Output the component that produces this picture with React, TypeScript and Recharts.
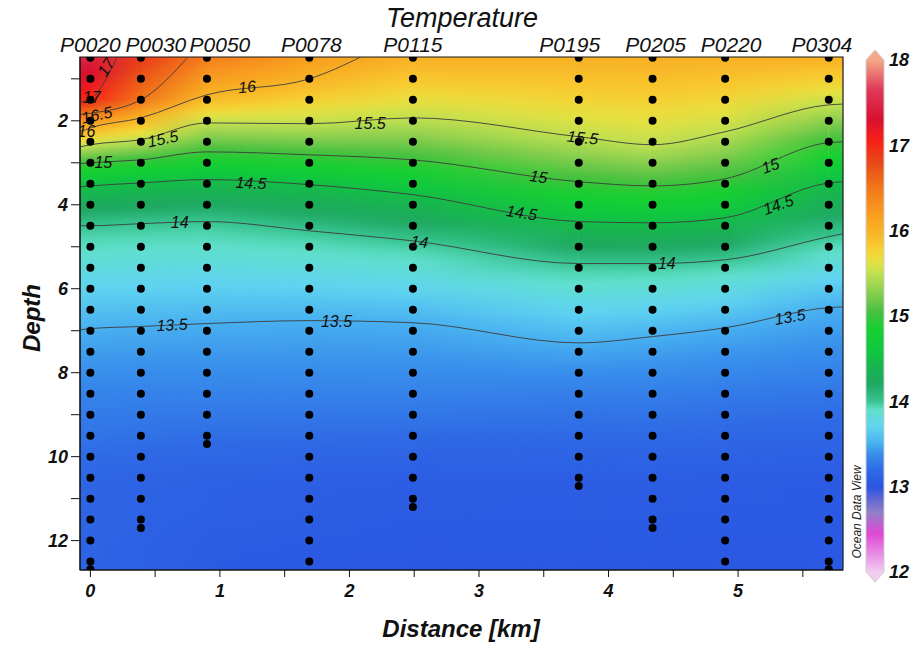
import React from "react";
import {
  ComposedChart,
  BarChart,
  Bar,
  XAxis,
  YAxis,
  Line,
  Scatter,
  ReferenceArea,
} from "recharts";

const FONT = '"Liberation Sans", Arial, sans-serif';

// stations along the section
const stations = ["P0020", "P0030", "P0050", "P0078", "P0115", "P0195", "P0205", "P0220", "P0304"];
const stationKm = [0, 0.39, 0.9, 1.69, 2.49, 3.77, 4.34, 4.9, 5.7];
const stationBottom = [12.68, 11.7, 9.7, 12.5, 11.2, 10.7, 11.7, 12.5, 12.68];
const sampleDepths = [0.5, 1, 1.5, 2, 2.5, 3, 3.5, 4, 4.5, 5, 5.5, 6, 6.5, 7, 7.5, 8, 8.5, 9, 9.5, 10, 10.5, 11, 11.5, 12, 12.5];

// section columns (plot edges + stations)
const gridKm = [-0.08, 0, 0.39, 0.9, 1.69, 2.49, 3.77, 4.34, 4.9, 5.7, 5.81];
const DEPTH_TOP = 0.48;
const DEPTH_BOTTOM = 12.7;

// temperature at the top of each column
const topTemp = [17.5, 17.45, 16.9, 16.45, 16.2, 16.02, 16.02, 16.03, 16.02, 16.02, 16.02];

// depth of each isotherm at each column (null = above the section)
const isoLevels = [17, 16.5, 16, 15.5, 15, 14.5, 14, 13.5];
const iso170 = [1.55, 1.48, null, null, null, null, null, null, null, null, null];
const iso165 = [1.85, 1.82, 1.5, null, null, null, null, null, null, null, null];
const iso160 = [2.26, 2.17, 1.93, 1.38, 1.0, null, null, null, null, null, null];
const iso155 = [2.62, 2.57, 2.45, 2.05, 2.07, 1.93, 2.38, 2.57, 2.26, 1.62, 1.6];
const iso150 = [3.02, 3.0, 2.93, 2.74, 2.81, 2.93, 3.45, 3.55, 3.38, 2.52, 2.5];
const iso145 = [3.57, 3.55, 3.48, 3.4, 3.52, 3.76, 4.4, 4.43, 4.31, 3.48, 3.45];
const iso140 = [4.5, 4.5, 4.45, 4.4, 4.62, 4.86, 5.4, 5.4, 5.31, 4.76, 4.69];
const iso135 = [6.98, 6.95, 6.9, 6.83, 6.76, 6.81, 7.29, 7.14, 6.93, 6.45, 6.43];
const isoDepths = [iso170, iso165, iso160, iso155, iso150, iso145, iso140, iso135];
// where the warm isotherms leave through the top of the section
const isoTopExitKm = [0.21, 0.76, 2.1, null, null, null, null, null];

// deep water temperatures
const deepDepths = [8.5, 10.5, 12.7];
const temp085 = [13.33, 13.33, 13.32, 13.32, 13.32, 13.32, 13.3, 13.3, 13.28, 13.26, 13.26];
const temp105 = [13.16, 13.16, 13.14, 13.12, 13.1, 13.08, 13.08, 13.08, 13.07, 13.06, 13.06];
const tempBottom = [13.13, 13.13, 13.1, 13.06, 13.04, 13.03, 13.03, 13.03, 13.03, 13.03, 13.03];
const deepTemps = [temp085, temp105, tempBottom];

// contour labels
const isoLabels = [
  { km: 0.12, depth: 0.72, text: "17", angle: -58 },
  { km: 0.01, depth: 1.45, text: "17", angle: 0 },
  { km: 0.05, depth: 1.86, text: "16.5", angle: -12 },
  { km: -0.03, depth: 2.26, text: "16", angle: 0 },
  { km: 1.21, depth: 1.19, text: "16", angle: -5 },
  { km: 0.56, depth: 2.43, text: "15.5", angle: -12 },
  { km: 2.16, depth: 2.05, text: "15.5", angle: 0 },
  { km: 3.8, depth: 2.4, text: "15.5", angle: 6 },
  { km: 0.1, depth: 3.0, text: "15", angle: 0 },
  { km: 3.46, depth: 3.33, text: "15", angle: 8 },
  { km: 5.25, depth: 3.07, text: "15", angle: -20 },
  { km: 1.24, depth: 3.48, text: "14.5", angle: 3 },
  { km: 3.33, depth: 4.19, text: "14.5", angle: 8 },
  { km: 5.31, depth: 4.0, text: "14.5", angle: -20 },
  { km: 0.69, depth: 4.43, text: "14", angle: 0 },
  { km: 2.54, depth: 4.88, text: "14", angle: 6 },
  { km: 4.45, depth: 5.4, text: "14", angle: 0 },
  { km: 0.63, depth: 6.86, text: "13.5", angle: -3 },
  { km: 1.9, depth: 6.79, text: "13.5", angle: 0 },
  { km: 5.4, depth: 6.67, text: "13.5", angle: -10 },
];

const xTicks = [0, 0.5, 1, 1.5, 2, 2.5, 3, 3.5, 4, 4.5, 5, 5.5];
const yTicks = [1, 2, 3, 4, 5, 6, 7, 8, 9, 10, 11, 12];
const cbarTicks = [12, 13, 14, 15, 16, 17, 18];

// ODV-like palette
const cmapTemps = [12.0, 12.2, 12.45, 12.7, 12.9, 13.0, 13.2, 13.4, 13.5, 13.7, 13.9, 14.0, 14.2, 14.4, 14.6, 14.85, 15.05, 15.3, 15.5, 15.65, 15.8, 15.95, 16.1, 16.3, 16.55, 16.8, 17.05, 17.3, 17.65, 18.0];
const cmapColors = ["#f2cdf2", "#e890e4", "#e048d4", "#9080c8", "#5060d8", "#2a55e2", "#2f6be6", "#3a92ec", "#48b0f0", "#60d4f0", "#60e0c8", "#38c490", "#1fa862", "#18b450", "#10c840", "#18d030", "#48c040", "#90d050", "#c0e050", "#e8e040", "#f8cc30", "#f8b828", "#f8a820", "#f89020", "#f07018", "#e84818", "#f82018", "#d81030", "#e03858", "#f4a888"];

// crowded station names are pushed apart a little, as in the original
const stationLabelNudge = [0, 15, 13, 2, 0, -9, 3, 6, -7];

function hex(c: string) {
  return [1, 3, 5].map((i) => parseInt(c.slice(i, i + 2), 16));
}
function mix(a: string, b: string, f: number) {
  const A = hex(a), B = hex(b);
  const r = A.map((v, i) => Math.round(v + (B[i] - v) * f));
  return `rgb(${r[0]},${r[1]},${r[2]})`;
}
function cmap(t: number) {
  if (t <= cmapTemps[0]) return cmapColors[0];
  for (let i = 1; i < cmapTemps.length; i++) {
    if (t <= cmapTemps[i]) {
      return mix(cmapColors[i - 1], cmapColors[i], (t - cmapTemps[i - 1]) / (cmapTemps[i] - cmapTemps[i - 1]));
    }
  }
  return cmapColors[cmapColors.length - 1];
}

function columnStops(i: number) {
  const pts: [number, number][] = [[DEPTH_TOP, topTemp[i]]];
  isoDepths.forEach((arr, k) => {
    const d = arr[i];
    if (d != null) pts.push([d, isoLevels[k]]);
  });
  deepDepths.forEach((d, k) => pts.push([d, deepTemps[k][i]]));
  pts.sort((a, b) => a[0] - b[0]);
  const span = DEPTH_BOTTOM - DEPTH_TOP;
  const out: { off: number; color: string }[] = [];
  for (let j = 0; j < pts.length - 1; j++) {
    const [d0, t0] = pts[j];
    const [d1, t1] = pts[j + 1];
    for (let s = 0; s < 8; s++) {
      const f = s / 8;
      out.push({ off: (d0 + f * (d1 - d0) - DEPTH_TOP) / span, color: cmap(t0 + f * (t1 - t0)) });
    }
  }
  const last = pts[pts.length - 1];
  out.push({ off: (last[0] - DEPTH_TOP) / span, color: cmap(last[1]) });
  return out;
}

const sampleDots = stationKm.flatMap((km, s) => {
  const pts = sampleDepths.filter((d) => d <= stationBottom[s]).map((depth) => ({ km, depth }));
  if (!sampleDepths.includes(stationBottom[s])) pts.push({ km, depth: stationBottom[s] });
  return pts;
});

const isoLines = isoLevels.map((lv, k) => {
  const pts = gridKm
    .map((km, i) => ({ km, depth: isoDepths[k][i] }))
    .filter((p) => p.depth != null) as { km: number; depth: number }[];
  const exit = isoTopExitKm[k];
  if (exit != null) pts.push({ km: exit, depth: DEPTH_TOP - 0.02 });
  return pts;
});

// anchors the station-name axis
const stationTops = stationKm.map((km) => ({ km, depth: DEPTH_TOP }));

const colorbarData = [{ name: "T", range: [12, 18] }];

const StationTick = (props: any) => {
  const { x, index } = props;
  return (
    <text x={x + stationLabelNudge[index]} y={52} textAnchor="middle" fontFamily={FONT} fontStyle="italic" fontSize={21} fill="#111">
      {stations[index]}
    </text>
  );
};

const XTick = (props: any) => {
  const { x, y, payload } = props;
  if (!Number.isInteger(payload.value)) return <g />;
  return (
    <text x={x} y={y} dy="0.8em" textAnchor="middle" fontFamily={FONT} fontStyle="italic" fontWeight="bold" fontSize={18} fill="#111">
      {payload.value}
    </text>
  );
};

const YTick = (props: any) => {
  const { x, y, payload } = props;
  if (payload.value % 2 !== 0) return <g />;
  return (
    <text x={x} y={y} dy="0.36em" textAnchor="end" fontFamily={FONT} fontStyle="italic" fontWeight="bold" fontSize={18} fill="#111">
      {payload.value}
    </text>
  );
};

const CbarTick = (props: any) => {
  const { x, y, payload } = props;
  return (
    <text x={x} y={y} dy="0.36em" textAnchor="start" fontFamily={FONT} fontStyle="italic" fontWeight="bold" fontSize={18} fill="#111">
      {payload.value}
    </text>
  );
};

const ColorbarShape = (props: any) => {
  const { x, y, width, height } = props;
  const tip = 10;
  const pts = `${x},${y} ${x + width / 2},${y - tip} ${x + width},${y} ${x + width},${y + height} ${x + width / 2},${y + height + tip} ${x},${y + height}`;
  const stops = cmapTemps.map((t, i) => ({ off: (18 - t) / 6, color: cmapColors[i] })).reverse();
  return (
    <g>
      <defs>
        <linearGradient id="cbarGrad" gradientUnits="userSpaceOnUse" x1={0} y1={y} x2={0} y2={y + height}>
          {stops.map((s, i) => (
            <stop key={i} offset={s.off} stopColor={s.color} />
          ))}
        </linearGradient>
      </defs>
      <polygon points={pts} fill="url(#cbarGrad)" stroke="#cfcfcf" strokeWidth={1} />
    </g>
  );
};

const stripShape = (i: number) => (props: any) => {
  const { x, y, width, height } = props;
  return (
    <g shapeRendering="crispEdges">
      <rect x={x} y={y} width={width} height={height} fill={`url(#col${i})`} />
      <rect x={x} y={y} width={width} height={height} fill={`url(#col${i + 1})`} mask="url(#fadeR)" />
    </g>
  );
};

const LabelShape = (props: any) => {
  const { cx, cy, payload } = props;
  return (
    <text
      x={cx}
      y={cy}
      dy="0.35em"
      textAnchor="middle"
      transform={`rotate(${payload.angle}, ${cx}, ${cy})`}
      fontFamily={FONT}
      fontStyle="italic"
      fontSize={16}
      fill="#111"
    >
      {payload.text}
    </text>
  );
};

export default function App() {
  const xDomain = [gridKm[0], gridKm[gridKm.length - 1]];
  return (
    <div style={{ position: "absolute", left: 0, top: 0, width: 914, height: 646, background: "#fff" }}>
      <ComposedChart width={914} height={646} margin={{ top: 0, right: 71, bottom: 0, left: 0 }}>
        <defs>
          {gridKm.map((_, i) => (
            <linearGradient key={i} id={`col${i}`} x1={0} y1={0} x2={0} y2={1}>
              {columnStops(i).map((s, j) => (
                <stop key={j} offset={s.off} stopColor={s.color} />
              ))}
            </linearGradient>
          ))}
          <linearGradient id="hfade" x1={0} y1={0} x2={1} y2={0}>
            <stop offset={0} stopColor="#000" />
            <stop offset={1} stopColor="#fff" />
          </linearGradient>
          <mask id="fadeR" maskContentUnits="objectBoundingBox">
            <rect x={0} y={0} width={1} height={1} fill="url(#hfade)" />
          </mask>
        </defs>
        <XAxis
          dataKey="km"
          type="number"
          domain={xDomain}
          ticks={xTicks}
          interval={0}
          allowDataOverflow
          height={76}
          tickSize={7}
          tickMargin={6}
          stroke="#111"
          tick={<XTick />}
        />
        <XAxis
          xAxisId="top"
          dataKey="km"
          orientation="top"
          type="number"
          domain={xDomain}
          ticks={stationKm}
          interval={0}
          allowDataOverflow
          height={57}
          axisLine={false}
          tickLine={false}
          tick={<StationTick />}
        />
        <YAxis
          dataKey="depth"
          type="number"
          reversed
          domain={[DEPTH_TOP, DEPTH_BOTTOM]}
          ticks={yTicks}
          interval={0}
          allowDataOverflow
          width={80}
          tickSize={9}
          tickMargin={3}
          stroke="#111"
          tick={<YTick />}
        />
        {gridKm.slice(0, -1).map((km, i) => (
          <ReferenceArea
            key={`strip${i}`}
            x1={km}
            x2={gridKm[i + 1]}
            y1={DEPTH_TOP}
            y2={DEPTH_BOTTOM}
            shape={stripShape(i)}
          />
        ))}
        {isoLines.map((pts, k) => (
          <Line
            key={`iso${k}`}
            data={pts}
            dataKey="depth"
            type="monotone"
            stroke="#3c3c3c"
            strokeWidth={0.9}
            dot={false}
            activeDot={false}
            isAnimationActive={false}
          />
        ))}
        <Line
          xAxisId="top"
          data={stationTops}
          dataKey="depth"
          stroke="none"
          dot={false}
          activeDot={false}
          isAnimationActive={false}
        />
        <Scatter
          data={sampleDots}
          isAnimationActive={false}
          shape={(p: any) => <circle cx={p.cx} cy={p.cy} r={4} fill="#000" />}
        />
        <Scatter data={isoLabels} isAnimationActive={false} shape={<LabelShape />} />
        <ReferenceArea
          x1={xDomain[0]}
          x2={xDomain[1]}
          y1={DEPTH_TOP}
          y2={DEPTH_BOTTOM}
          fill="none"
          stroke="#1a1a1a"
          strokeWidth={1.2}
        />
      </ComposedChart>

      <div style={{ position: "absolute", left: 850, top: 0 }}>
        <BarChart width={64} height={646} data={colorbarData} margin={{ top: 60, right: 0, bottom: 74, left: 16 }} barCategoryGap={0}>
          <XAxis dataKey="name" hide />
          <YAxis
            orientation="right"
            type="number"
            domain={[12, 18]}
            ticks={cbarTicks}
            interval={0}
            width={30}
            axisLine={false}
            tickLine={false}
            tickSize={0}
            tickMargin={5}
            tick={<CbarTick />}
          />
          <Bar dataKey="range" shape={<ColorbarShape />} isAnimationActive={false} />
        </BarChart>
      </div>

      <svg width={914} height={646} style={{ position: "absolute", left: 0, top: 0, pointerEvents: "none" }}>
        <text x={462} y={27} textAnchor="middle" fontFamily={FONT} fontStyle="italic" fontSize={27} fill="#111">
          Temperature
        </text>
        <text x={461} y={637} textAnchor="middle" fontFamily={FONT} fontStyle="italic" fontWeight="bold" fontSize={24} fill="#111">
          Distance [km]
        </text>
        <text transform="translate(40,318) rotate(-90)" textAnchor="middle" fontFamily={FONT} fontStyle="italic" fontWeight="bold" fontSize={24} fill="#111">
          Depth
        </text>
        <text transform="translate(861,512) rotate(-90)" textAnchor="middle" fontFamily={FONT} fontStyle="italic" fontSize={12} fill="#222">
          Ocean Data View
        </text>
      </svg>
    </div>
  );
}
